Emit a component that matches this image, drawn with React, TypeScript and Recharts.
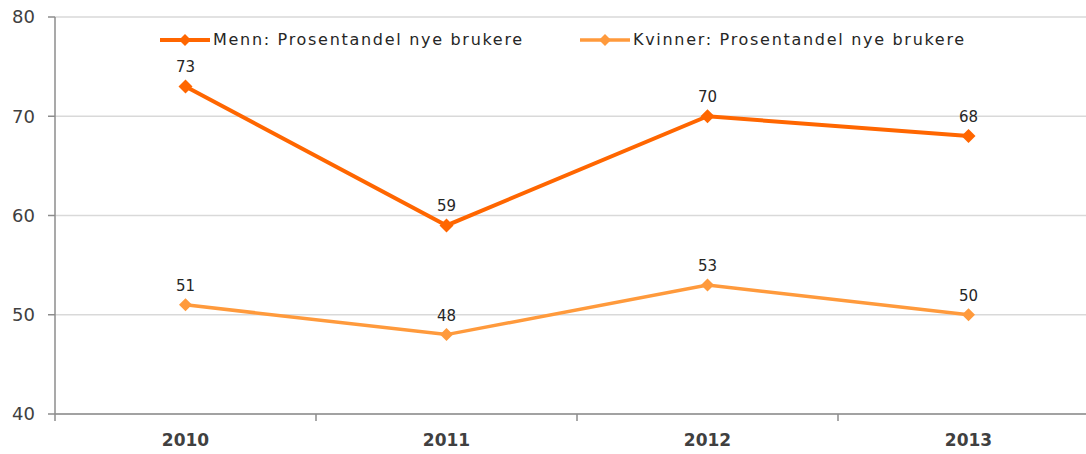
import React from 'react';
import { LineChart, Line, XAxis, YAxis, CartesianGrid, LabelList } from 'recharts';

const years = ['2010', '2011', '2012', '2013'];
const menn = [73, 59, 70, 68];
const kvinner = [51, 48, 53, 50];
const yTicks = [40, 50, 60, 70, 80];

const seriesInfo = [
  { key: 'menn', name: 'Menn: Prosentandel nye brukere', color: '#ff6600', width: 4, r: 7 },
  { key: 'kvinner', name: 'Kvinner: Prosentandel nye brukere', color: '#ff9a3c', width: 3.5, r: 6.5 },
];

const data = years.map((year, i) => ({ year, menn: menn[i], kvinner: kvinner[i] }));

const CHART_W = 1100;
const Y_W = 55;
const RIGHT = 1;
const HALF_BAND = (CHART_W - Y_W - RIGHT) / years.length / 2;
const FONT = '"DejaVu Sans", sans-serif';

const diamond = (color: string, r: number) => (props: any) => {
  const { cx, cy, index } = props;
  if (cx == null || cy == null) return <g key={index} />;
  return (
    <polygon
      key={index}
      points={`${cx},${cy - r} ${cx + r},${cy} ${cx},${cy + r} ${cx - r},${cy}`}
      fill={color}
    />
  );
};

const XTick = (props: any) => {
  const { x, y, payload } = props;
  const bx = x - HALF_BAND;
  return (
    <g>
      <line x1={bx} x2={bx} y1={y - 7} y2={y} stroke="#8c8c8c" strokeWidth={1.5} />
      <text x={x} y={y + 25} textAnchor="middle" fontFamily={FONT} fontSize={17} fontWeight="bold" fill="#404040">
        {payload.value}
      </text>
    </g>
  );
};

const legendPos = [160, 580];

export default function App() {
  return (
    <div style={{ position: 'absolute', left: 0, top: 0, width: 1086, height: 454, overflow: 'hidden', background: '#fff' }}>
      <LineChart width={CHART_W} height={454} data={data} margin={{ top: 17, right: RIGHT, left: 0, bottom: 0 }}>
        <CartesianGrid vertical={false} stroke="#d9d9d9" strokeWidth={1.5} />
        <XAxis
          dataKey="year"
          scale="band"
          height={40}
          tickSize={7}
          tickMargin={0}
          tickLine={false}
          axisLine={{ stroke: '#8c8c8c', strokeWidth: 1.5 }}
          tick={<XTick />}
          interval={0}
        />
        <YAxis
          width={Y_W}
          domain={[40, 80]}
          ticks={yTicks}
          tickSize={7}
          tickMargin={13}
          axisLine={{ stroke: '#8c8c8c', strokeWidth: 1.5 }}
          tickLine={{ stroke: '#8c8c8c', strokeWidth: 1.5 }}
          tick={{ fontFamily: FONT, fontSize: 18, fill: '#404040' }}
        />
        {seriesInfo.map((s) => (
          <Line
            key={s.key}
            dataKey={s.key}
            name={s.name}
            stroke={s.color}
            strokeWidth={s.width}
            dot={diamond(s.color, s.r)}
            activeDot={false}
            isAnimationActive={false}
          >
            <LabelList dataKey={s.key} position="top" offset={14} fontFamily={FONT} fontSize={15} fill="#262626" />
          </Line>
        ))}
      </LineChart>
      {seriesInfo.map((s, i) => (
        <div
          key={s.key}
          style={{
            position: 'absolute',
            left: legendPos[i],
            top: 30,
            display: 'flex',
            alignItems: 'center',
            fontFamily: FONT,
            fontSize: 16,
            letterSpacing: 1.7,
            color: '#262626',
            whiteSpace: 'nowrap',
          }}
        >
          <svg width={50} height={16} style={{ marginRight: 3 }}>
            <line x1={0} x2={50} y1={8} y2={8} stroke={s.color} strokeWidth={s.width} />
            <polygon points="25,2 31,8 25,14 19,8" fill={s.color} />
          </svg>
          <span>{s.name}</span>
        </div>
      ))}
    </div>
  );
}
